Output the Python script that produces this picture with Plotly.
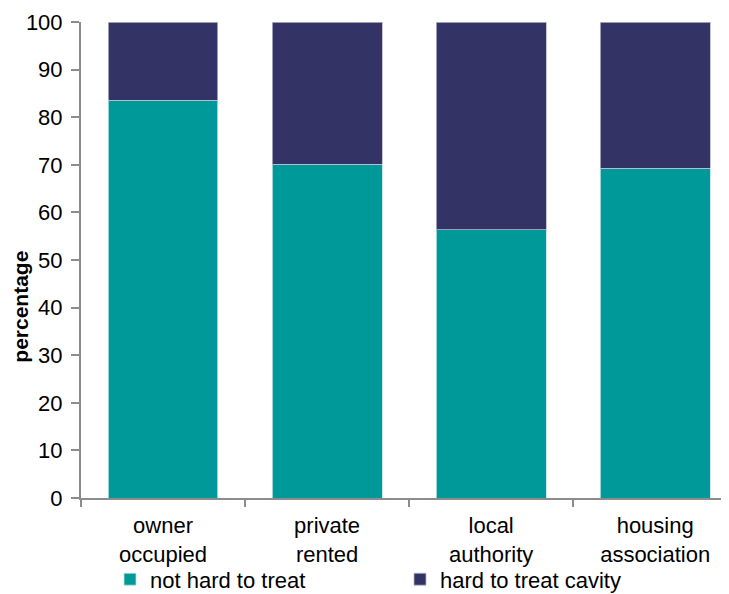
import plotly.graph_objects as go

categories = ["owner<br>occupied", "private<br>rented", "local<br>authority", "housing<br>association"]
not_hard = [83.6, 70.1, 56.4, 69.3]
hard_cavity = [16.4, 29.9, 43.6, 30.7]
y_ticks = [0, 10, 20, 30, 40, 50, 60, 70, 80, 90, 100]

FONT = "Liberation Sans, Arial, sans-serif"
# page body has an 8px default margin; compensate so the chart lands where the reference is
W, H = 721, 586
L, R, T = 73, 0, 14
PH = 476.5
B = H - T - PH
PW = W - L - R

fig = go.Figure()
fig.add_trace(go.Bar(
    x=categories, y=not_hard, name="not hard to treat",
    marker=dict(color="#009999", line=dict(color="#bfe3e3", width=0.8)),
    width=0.67,
))
fig.add_trace(go.Bar(
    x=categories, y=hard_cavity, name="hard to treat cavity",
    marker=dict(color="#333366", line=dict(color="#b8b8cc", width=0.8)),
    width=0.67,
))

fig.update_layout(
    width=W, height=H,
    barmode="stack",
    margin=dict(l=L, r=R, t=T, b=B, autoexpand=False),
    paper_bgcolor="white", plot_bgcolor="white",
    font=dict(family=FONT, color="#000000", size=22),
    showlegend=True,
    legend=dict(
        orientation="h", x=(102 - L) / PW, xanchor="left",
        y=-(572 - (H - B)) / PH, yanchor="middle",
        font=dict(size=22, family=FONT), entrywidth=245, entrywidthmode="pixels",
        traceorder="normal", itemclick=False, bgcolor="rgba(0,0,0,0)",
        itemwidth=30,
    ),
    xaxis=dict(
        type="category", range=[-0.5, 3.45], tickson="boundaries",
        showline=True, linecolor="#8c8c8c", linewidth=2,
        ticks="outside", ticklen=7, tickcolor="#8c8c8c", tickwidth=2,
        tickfont=dict(size=22, family=FONT), showgrid=False, zeroline=False,
        ticklabelstandoff=7,
    ),
    yaxis=dict(
        range=[0, 100], tickvals=y_ticks,
        showline=True, linecolor="#8c8c8c", linewidth=2,
        ticks="outside", ticklen=8, tickcolor="#8c8c8c", tickwidth=2,
        tickfont=dict(size=22, family=FONT), showgrid=False, zeroline=False,
        ticklabelstandoff=4,
    ),
    annotations=[dict(
        text="<b>percentage</b>", textangle=-90, xref="paper", yref="paper",
        x=(13 - L) / PW, y=(H - B - 299) / PH, xanchor="center", yanchor="middle",
        showarrow=False, font=dict(size=21, family=FONT),
    )],
)

fig.write_html("out.html")
